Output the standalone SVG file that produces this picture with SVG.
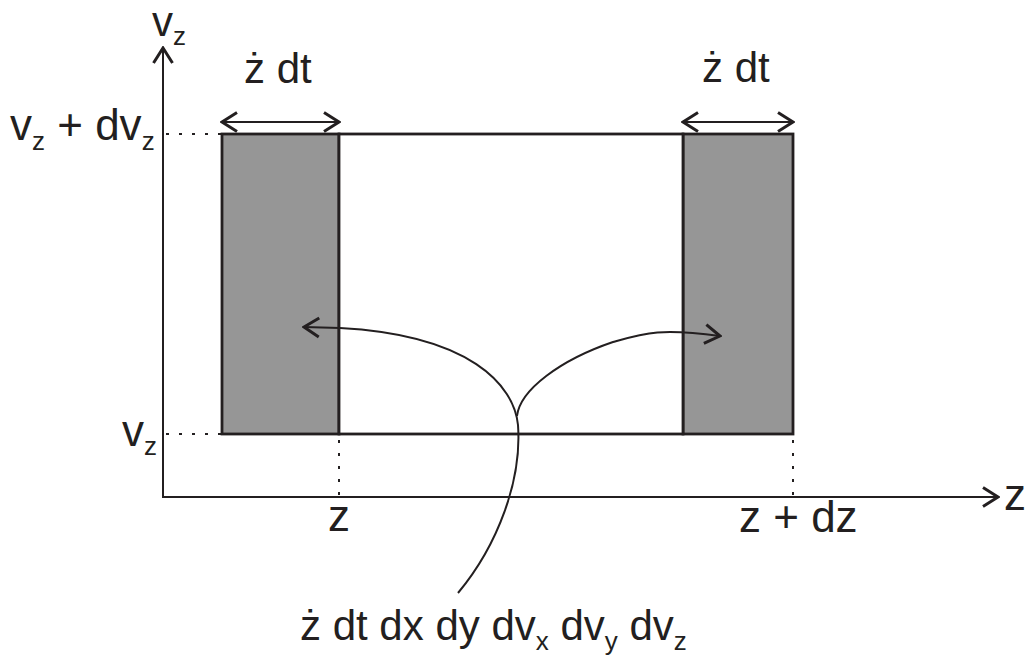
<svg xmlns="http://www.w3.org/2000/svg" width="1030" height="655" viewBox="0 0 1030 655">
<style>
text{font-family:"Liberation Sans",Arial,sans-serif;font-size:42px;fill:#231f20}
.big{font-size:44px}
.sub{font-size:26px}
.ln{stroke:#231f20;stroke-width:2;fill:none}
.box{stroke:#231f20;stroke-width:2.8}
.dot{stroke:#231f20;stroke-width:2;stroke-dasharray:3 10;fill:none}
.arr{marker-end:url(#chev)}
.dbl{marker-start:url(#chev);marker-end:url(#chev)}
</style>
<defs>
<marker id="chev" viewBox="-18 -12 20 24" refX="0" refY="0" markerWidth="20" markerHeight="24" markerUnits="userSpaceOnUse" orient="auto-start-reverse">
<path d="M-15,-9.5 L0,0 L-15,9.5" fill="none" stroke="#231f20" stroke-width="3" stroke-linejoin="miter" stroke-linecap="butt"/>
</marker>
</defs>
<rect width="1030" height="655" fill="#ffffff"/>
<g id="band-left">
<rect x="222" y="134" width="117" height="300" fill="#969696" class="box"/>
</g>
<g id="band-right">
<rect x="683" y="134" width="110" height="300" fill="#969696" class="box"/>
</g>
<g id="cell">
<rect x="339" y="134" width="344" height="300" fill="#ffffff" class="box"/>
</g>
<g id="axes">
<line x1="163" y1="497" x2="163" y2="48" class="ln arr"/>
<line x1="162" y1="497" x2="998" y2="497" class="ln arr"/>
<text x="152" y="36">v<tspan class="sub" dy="9">z</tspan></text>
<text x="1004" y="510" class="big">z</text>
</g>
<g id="guides">
<line x1="166" y1="134" x2="222" y2="134" class="dot"/>
<line x1="166" y1="434" x2="222" y2="434" class="dot"/>
<line x1="339" y1="440" x2="339" y2="497" class="dot"/>
<line x1="793" y1="440" x2="793" y2="497" class="dot"/>
</g>
<g id="labels">
<text x="10" y="140" class="big">v<tspan class="sub" dy="10">z</tspan><tspan dy="-10"> + dv</tspan><tspan class="sub" dy="10">z</tspan></text>
<text x="122" y="446" class="big">v<tspan class="sub" dy="9">z</tspan></text>
<text x="328" y="531" class="big">z</text>
<text x="739" y="532" class="big">z + dz</text>
<text x="244" y="83">ż dt</text>
<text x="702" y="82">ż dt</text>
<text x="300" y="640">ż dt dx dy dv<tspan class="sub" dy="10">x</tspan><tspan dy="-10"> dv</tspan><tspan class="sub" dy="10">y</tspan><tspan dy="-10"> dv</tspan><tspan class="sub" dy="10">z</tspan></text>
</g>
<g id="connectors">
<line x1="222" y1="122" x2="339" y2="122" class="ln dbl"/>
<line x1="683" y1="122" x2="793" y2="122" class="ln dbl"/>
<path d="M458,593 C498,545 522,480 518,425 C514,385 470,335 340,328 L304,327" class="ln arr"/>
<path d="M517,416 C520,390 560,360 613,342 C645,333 660,328 720,336" class="ln arr"/>
</g>
</svg>
